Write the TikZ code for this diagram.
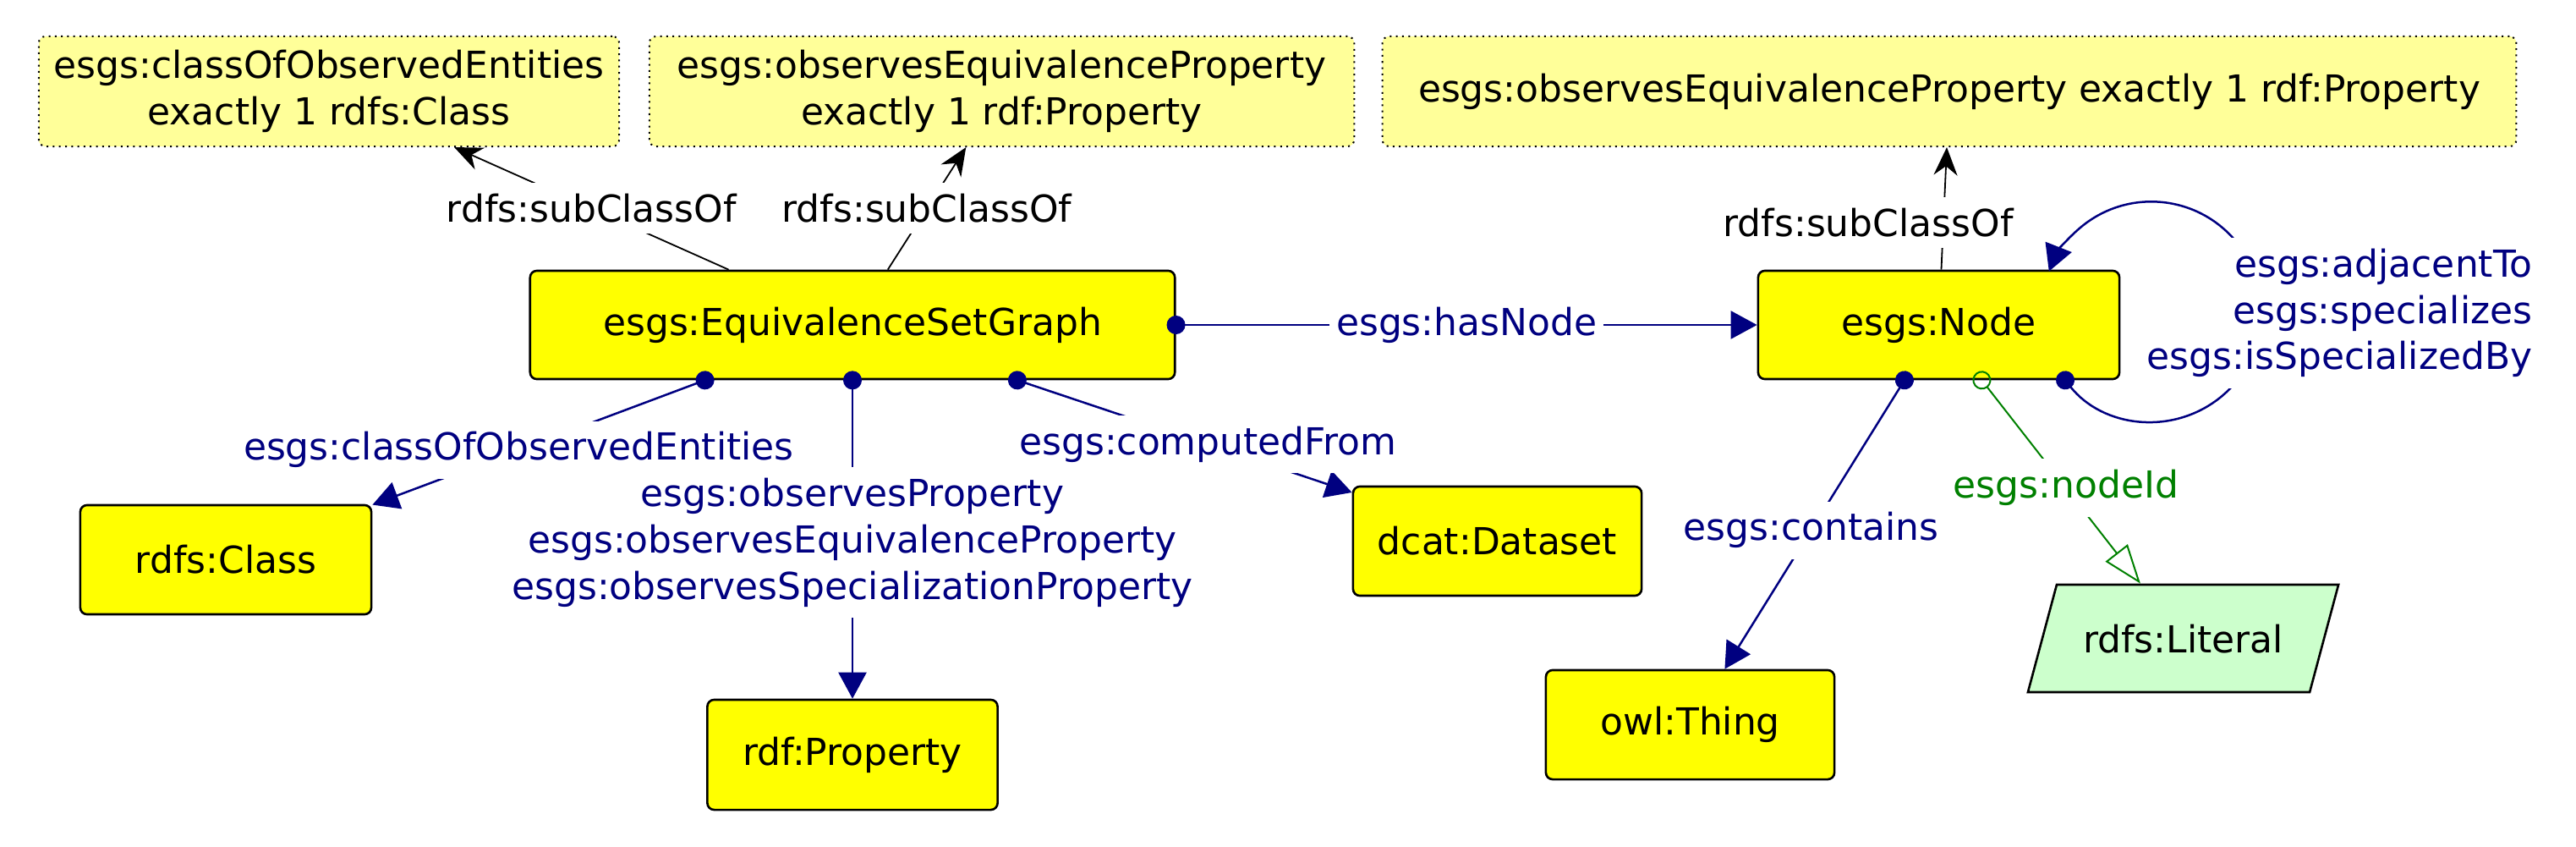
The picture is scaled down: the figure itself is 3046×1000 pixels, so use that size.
\documentclass[tikz,border=0pt]{standalone}
\usepackage{fontspec}
\setmainfont{DejaVu Sans}
\usetikzlibrary{positioning,arrows.meta,shapes.geometric,calc}
\definecolor{clsyellow}{HTML}{FFFF00}
\definecolor{rstryellow}{HTML}{FFFF99}
\definecolor{litgreen}{HTML}{CCFFCC}
\definecolor{navy}{HTML}{000080}
\definecolor{dgreen}{HTML}{008000}

\begin{document}
\begin{tikzpicture}[x=0.01cm,y=-0.01cm,
  font=\fontsize{12.5pt}{15.6pt}\selectfont,
  classbox/.style={draw,line width=0.026cm,rounded corners=0.08cm,fill=clsyellow,minimum height=1.28cm,inner sep=0pt},
  rstr/.style={draw,line width=0.02cm,dash pattern=on 0.02cm off 0.053cm,rounded corners=0.08cm,fill=rstryellow,minimum height=1.3cm,inner sep=0pt,align=center},
  litbox/.style={draw,line width=0.026cm,fill=litgreen,trapezium,trapezium left angle=75,trapezium right angle=105,trapezium stretches body=true,text height=0.33cm,text depth=0pt,inner xsep=0pt,inner ysep=0.47cm,minimum width=3.67cm},
  lbl/.style={fill=white,inner xsep=0.08cm,inner ysep=0.13cm,align=center},
  objlbl/.style={lbl,text=navy},
  datlbl/.style={lbl,text=dgreen},
  sub/.style={line width=0.018cm,-{Stealth[length=0.33cm,width=0.28cm]}},
  obj/.style={draw=navy,line width=0.025cm,{Circle[length=0.22cm]}-{Triangle[length=0.31cm,width=0.33cm]},shorten <=-0.11cm},
  dat/.style={draw=dgreen,line width=0.02cm,{Circle[open,length=0.22cm]}-{Triangle[open,length=0.46cm,width=0.33cm]},shorten <=-0.11cm}]
  \useasboundingbox (0,0) rectangle (3046,1000);
  \node[rstr,minimum width=6.86cm] (r1) at (389,108) {esgs:classOfObservedEntities\\exactly 1 rdfs:Class};
  \node[rstr,minimum width=8.33cm] (r2) at (1184.5,108) {esgs:observesEquivalenceProperty\\exactly 1 rdf:Property};
  \node[rstr,minimum width=13.4cm] (r3) at (2305,108) {esgs:observesEquivalenceProperty exactly 1 rdf:Property};
  \node[classbox,minimum width=7.62cm] (esg) at (1008,384) {esgs:EquivalenceSetGraph};
  \node[classbox,minimum width=4.27cm] (esgnode) at (2292.5,384) {esgs:Node};
  \node[classbox,minimum width=3.44cm,minimum height=1.29cm] (rdfsclass) at (267,661.5) {rdfs:Class};
  \node[classbox,minimum width=3.43cm,minimum height=1.3cm] (prop) at (1008,892) {rdf:Property};
  \node[classbox,minimum width=3.41cm,minimum height=1.29cm] (ds) at (1770.5,639.5) {dcat:Dataset};
  \node[classbox,minimum width=3.41cm,minimum height=1.29cm] (thing) at (1998.5,856.5) {owl:Thing};
  \node[litbox] (literal) at (2581.5,754.5) {rdfs:Literal};
  \foreach \t/\l in {r1/sub1,r2/sub2} \draw[sub] (esg) -- node[lbl] (\l) {rdfs:subClassOf} (\t);
  \draw[sub] (esgnode) -- (r3);
  \node[lbl] (sub3) at (2209,263) {rdfs:subClassOf};
  \draw[obj] (esg) -- node[objlbl] (lhas) {esgs:hasNode} (esgnode);
  \draw[obj] (esg) -- node[objlbl,pos=0.56] (lcoe) {esgs:classOfObservedEntities} (rdfsclass);
  \draw[obj] (esg) -- node[objlbl,pos=0.51] (lobs) {esgs:observesProperty\\esgs:observesEquivalenceProperty\\esgs:observesSpecializationProperty} (prop);
  \draw[obj] (esg) -- node[objlbl,pos=0.57] (lcmp) {esgs:computedFrom} (ds);
  \draw[obj] (esgnode) -- node[objlbl,pos=0.52] (lcnt) {esgs:contains} (thing);
  \draw[dat] (esgnode) -- node[datlbl,pos=0.53] (lnid) {esgs:nodeId} (literal);
  \draw[obj] ($(esgnode.south)+(149.5,0)$) arc[start angle=218.5,end angle=518.5,radius=1.3cm];
  \node[objlbl,align=right,anchor=east] (lloop) at (3003,370) {esgs:adjacentTo\\esgs:specializes\\esgs:isSpecializedBy};
\end{tikzpicture}
\end{document}
